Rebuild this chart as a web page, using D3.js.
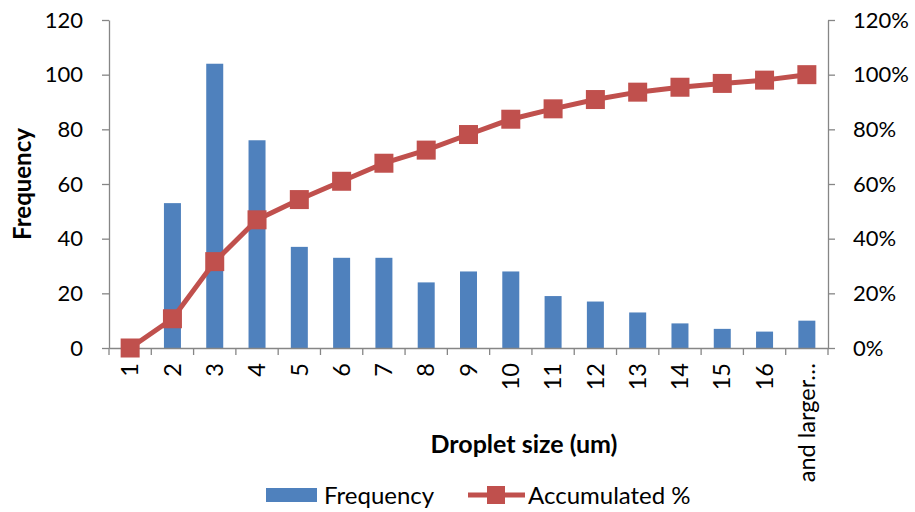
<!DOCTYPE html>
<html><head><meta charset="utf-8">
<script src="https://cdn.jsdelivr.net/npm/d3@7"></script>
<style>body{margin:0;background:#fff}svg{display:block}text{font-family:Lato,"Liberation Sans",sans-serif;fill:#000}</style>
</head><body><svg id="c" width="915" height="512"></svg>
<script>
const categories = ["1","2","3","4","5","6","7","8","9","10","11","12","13","14","15","16","and larger…"];
const frequency = [0,53,104,76,37,33,33,24,28,28,19,17,13,9,7,6,10];
const accumulated = [0,10.7,31.6,46.9,54.3,61.0,67.6,72.4,78.1,83.7,87.5,90.9,93.6,95.4,96.8,98.0,100];
const leftTicks = [0,20,40,60,80,100,120];
const rightTicks = [0,20,40,60,80,100,120];

const svg = d3.select("#c");
const L = 109, R = 828, T = 20, B = 348;
const xb = d3.scaleBand().domain(categories).range([L, R]);
const yL = d3.scaleLinear().domain([0,120]).range([B, T]);
const yR = d3.scaleLinear().domain([0,120]).range([B, T]);
const axisColor = "#868686";

// bars
svg.append("g").selectAll("rect").data(frequency).join("rect")
  .attr("x", (d,i) => xb(categories[i]) + xb.bandwidth()/2 - 8.5)
  .attr("width", 17)
  .attr("y", d => yL(d)).attr("height", d => B - yL(d))
  .attr("fill", "#4F81BD");

// left axis
const gl = svg.append("g").attr("transform", `translate(${L},0)`)
  .call(d3.axisLeft(yL).tickValues(leftTicks).tickSize(7).tickPadding(19).tickSizeOuter(0));
gl.selectAll("text").style("font-size","22px");
// right axis
const gr = svg.append("g").attr("transform", `translate(${R},0)`)
  .call(d3.axisRight(yR).tickValues(rightTicks).tickSize(7).tickPadding(18).tickSizeOuter(0).tickFormat(d => d + "%"));
gr.selectAll("text").style("font-size","22px");
// bottom axis
const gb = svg.append("g").attr("transform", `translate(0,${B})`)
  .call(d3.axisBottom(xb).tickSize(0).tickSizeOuter(0));
gb.selectAll("text").style("font-size","23.5px")
  .attr("transform","rotate(-90)").attr("text-anchor","end")
  .attr("x", -15).attr("y", 0).attr("dy","0.35em");
// bottom tick marks at boundaries
gb.append("g").selectAll("line").data(categories.concat([null])).join("line")
  .attr("x1", (d,i) => L + i*xb.step()).attr("x2", (d,i) => L + i*xb.step())
  .attr("y1", 0).attr("y2", 7).attr("stroke", axisColor);
[gl, gr, gb].forEach(g => { g.selectAll("path,line").attr("stroke", axisColor).attr("stroke-width",1.3); });

// line
const cx = (i) => xb(categories[i]) + xb.bandwidth()/2;
const line = d3.line().x((d,i) => cx(i)).y(d => yR(d));
svg.append("path").datum(accumulated).attr("d", line)
  .attr("fill","none").attr("stroke","#C0504D").attr("stroke-width",5).attr("stroke-linejoin","round");
svg.append("g").selectAll("rect").data(accumulated).join("rect")
  .attr("x", (d,i) => cx(i) - 9.5).attr("y", d => yR(d) - 9.5)
  .attr("width", 19).attr("height", 19).attr("fill","#C0504D");

// titles
svg.append("text").attr("transform","translate(31,184) rotate(-90)")
  .attr("text-anchor","middle").style("font-size","24px").style("font-weight","bold").text("Frequency");
svg.append("text").attr("x", 524).attr("y", 453).attr("text-anchor","middle")
  .style("font-size","25px").style("font-weight","bold").text("Droplet size (um)");

// legend
const lg = svg.append("g");
lg.append("rect").attr("x",266).attr("y",488).attr("width",51).attr("height",14).attr("fill","#4F81BD");
lg.append("text").attr("x",324).attr("y",504).style("font-size","24px").text("Frequency");
lg.append("line").attr("x1",468).attr("x2",525).attr("y1",495).attr("y2",495)
  .attr("stroke","#C0504D").attr("stroke-width",5);
lg.append("rect").attr("x",487).attr("y",486).attr("width",18).attr("height",18).attr("fill","#C0504D");
lg.append("text").attr("x",528).attr("y",504).style("font-size","24px").text("Accumulated %");
</script></body></html>
